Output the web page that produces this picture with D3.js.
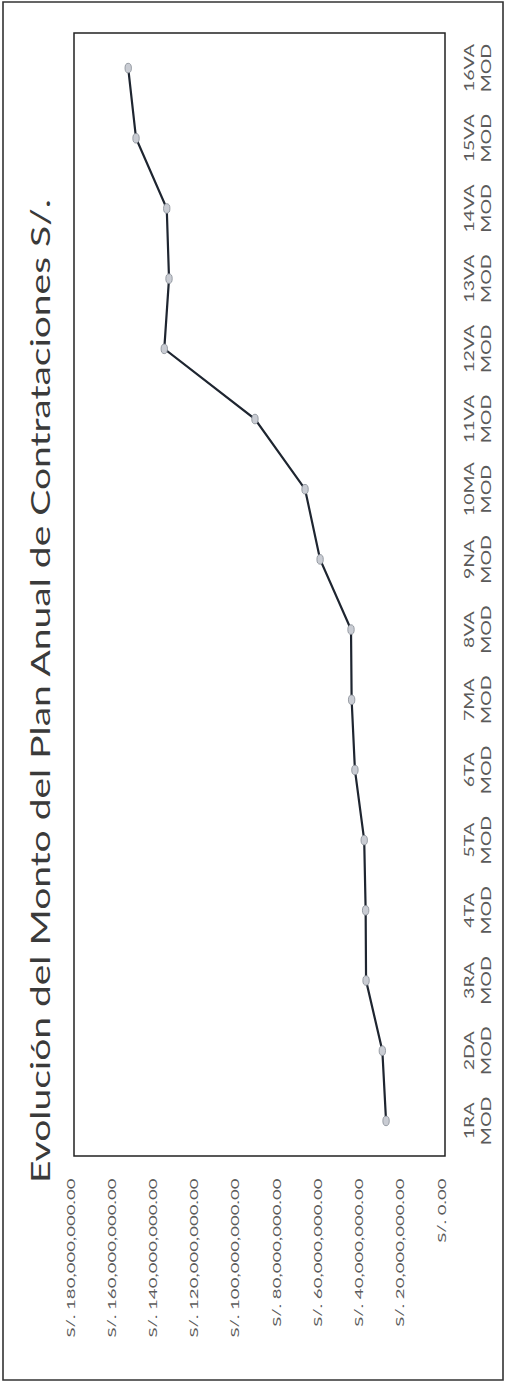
<!DOCTYPE html>
<html lang="es">
<head>
<meta charset="UTF-8">
<script src="https://cdn.jsdelivr.net/npm/d3@7"></script>
<title>Evolución PAC</title>
<style>
    body { margin: 0; background: #fff; }
    svg { display: block; background: #fff; }
    .axis text { font-family: Lato, "Open Sans", sans-serif; fill: #5a5a5a; }
</style>
</head>
<body>
<script>
    // ---------------- data ----------------
    const categories = ["1RA", "2DA", "3RA", "4TA", "5TA", "6TA", "7MA", "8VA",
        "9NA", "10MA", "11VA", "12VA", "13VA", "14VA", "15VA", "16VA"];
    const montos = [28.6e6, 30.4e6, 38.3e6, 38.5e6, 39.2e6, 43.7e6, 45.3e6, 45.6e6,
        60.6e6, 67.9e6, 92.2e6, 136.2e6, 133.9e6, 135.0e6, 149.9e6, 153.7e6];
    const yTicks = [0, 20e6, 40e6, 60e6, 80e6, 100e6, 120e6, 140e6, 160e6, 180e6];
    const title = "Evolución del Monto del Plan Anual de Contrataciones S/.";

    // ---------------- page / scan geometry ----------------
    // the chart is a scanned page turned 90deg and stretched along its width
    const W = 508, H = 1382;
    const stretch = 1.5;
    const chartW = H / stretch;   // width of the chart before rotation

    const plot = { left: (H - 1156) / stretch, right: (H - 33) / stretch, top: 74, bottom: 445 };

    const svg = d3.select("body").append("svg")
        .attr("width", W)
        .attr("height", H);

    const g = svg.append("g")
        .attr("transform", `translate(0,${H}) rotate(-90) scale(${stretch},1)`);

    // outer frame
    g.append("rect")
        .attr("x", 1.3).attr("y", 3)
        .attr("width", chartW - 2.6).attr("height", 500)
        .attr("fill", "none")
        .attr("stroke", "#333")
        .attr("stroke-width", 1.6)
        .attr("vector-effect", "non-scaling-stroke");

    // ---------------- scales ----------------
    const x = d3.scaleBand()
        .domain(categories)
        .range([plot.left, plot.right]);

    const y = d3.scaleLinear()
        .domain([0, 180e6])
        .range([plot.bottom, plot.top]);

    const fmt = d3.format(",.2f");

    // ---------------- axes ----------------
    const yAxis = g.append("g")
        .attr("class", "axis")
        .attr("transform", `translate(${plot.left},0)`)
        .call(d3.axisLeft(y).tickValues(yTicks).tickSize(0).tickPadding(15)
            .tickFormat(d => "S/. " + fmt(d)));
    yAxis.select(".domain").remove();
    yAxis.selectAll("text")
        .attr("font-size", 12.4)
        .attr("dy", "0.0em");

    const xAxis = g.append("g")
        .attr("class", "axis")
        .attr("transform", `translate(0,${plot.bottom})`)
        .call(d3.axisBottom(x).tickSize(0).tickPadding(0));
    xAxis.select(".domain").remove();
    xAxis.selectAll("text")
        .attr("font-size", 13)
        .attr("y", 0)
        .attr("dy", null)
        .text(null)
        .each(function (d) {
            const t = d3.select(this);
            t.append("tspan").attr("x", 0).attr("y", 29).text(d);
            t.append("tspan").attr("x", 0).attr("y", 46).text("MOD");
        });

    // plot area border
    g.append("rect")
        .attr("x", plot.left).attr("y", plot.top)
        .attr("width", plot.right - plot.left)
        .attr("height", plot.bottom - plot.top)
        .attr("fill", "none")
        .attr("stroke", "#222")
        .attr("stroke-width", 1.5)
        .attr("vector-effect", "non-scaling-stroke");

    // ---------------- title ----------------
    g.append("text")
        .attr("x", chartW / 2)
        .attr("y", 50)
        .attr("text-anchor", "middle")
        .attr("font-family", "Lato, 'Open Sans', sans-serif")
        .attr("font-size", 26)
        .attr("fill", "#3a3a3a")
        .text(title);

    // ---------------- line + markers ----------------
    const pts = categories.map((c, i) => ({ c: c, v: montos[i] }));

    const line = d3.line()
        .x(d => x(d.c) + x.bandwidth() / 2)
        .y(d => y(d.v));

    g.append("path")
        .datum(pts)
        .attr("d", line)
        .attr("fill", "none")
        .attr("stroke", "#1e2530")
        .attr("stroke-width", 2.2)
        .attr("vector-effect", "non-scaling-stroke");

    g.selectAll(".dot")
        .data(pts)
        .enter()
        .append("circle")
        .attr("class", "dot")
        .attr("cx", d => x(d.c) + x.bandwidth() / 2)
        .attr("cy", d => y(d.v))
        .attr("r", 3.2)
        .attr("fill", "#c9ccd3")
        .attr("stroke", "#858b94")
        .attr("stroke-width", 0.8)
        .attr("vector-effect", "non-scaling-stroke");
</script>
</body>
</html>
